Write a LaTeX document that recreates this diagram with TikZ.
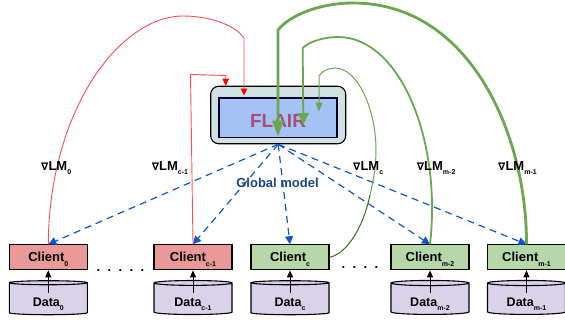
\documentclass[tikz,border=0pt]{standalone}
\usepackage{fontspec}
\setmainfont{Liberation Sans}
\newfontfamily\nablafont{DejaVu Sans}
\usepackage{xcolor}
\usetikzlibrary{shapes.geometric, arrows.meta, positioning, calc}

\definecolor{clientred}{HTML}{EA9999}
\definecolor{clientgreen}{HTML}{B6D7A8}
\definecolor{datapurple}{HTML}{D9D2E9}
\definecolor{flairouter}{HTML}{D0E0E3}
\definecolor{flairinner}{HTML}{A4C2F4}
\definecolor{flairtext}{HTML}{A64D79}
\definecolor{linkblue}{HTML}{1155CC}
\definecolor{modelblue}{HTML}{1C4587}
\definecolor{gradred}{HTML}{FF4D4D}
\definecolor{gradgreen}{HTML}{6AA84F}
\definecolor{gradgreendark}{HTML}{38661E}

\newcommand{\lowidx}[1]{\raisebox{-4.5pt}[0pt][0pt]{\fontsize{7}{8}\selectfont #1}}
\newcommand{\gradsym}{{\nablafont\fontsize{10.5}{12}\selectfont ∇}}
\newcommand{\datatxt}[1]{\raisebox{-7pt}[0pt][0pt]{Data\lowidx{#1}}}

\tikzset{
    clientbox/.style={draw, line width=1.1pt, minimum width=78pt, minimum height=25pt, inner sep=0pt, font=\fontsize{13}{15}\selectfont\bfseries},
    databox/.style={draw, cylinder, shape border rotate=90, aspect=0.13, line width=1.1pt, fill=datapurple, minimum width=78pt, minimum height=34pt, inner sep=0pt, font=\fontsize{12.5}{14}\selectfont\bfseries},
    gradlabel/.style={inner sep=0pt, font=\fontsize{13}{15}\selectfont\bfseries},
    modellink/.style={-{Triangle[length=8pt,width=8pt]}, dash pattern=on 7pt off 5pt, line width=1.2pt, linkblue},
    dataarrow/.style={-{Triangle[length=7pt,width=6pt]}, line width=1pt},
    redgrad/.style={-{Triangle[length=7pt,width=6.5pt,fill=red,color=red]}, line width=0.9pt, gradred},
    greengrad/.style={line width=#1, gradgreen}
}

\begin{document}
\begin{tikzpicture}[x=1pt,y=-1pt]
\useasboundingbox (0,0) rectangle (565,322);

% server
\node[draw, rounded corners=8pt, line width=1.1pt, fill=flairouter, minimum width=135pt, minimum height=57.5pt] (flair) at (278.2,115) {};
\node[draw, line width=1.5pt, color=black!85!blue, fill=flairinner, minimum width=118pt, minimum height=39.5pt, text=flairtext, font=\fontsize{19}{22}\selectfont\bfseries] (flairin) at (278,117.5) {\raisebox{-9.5pt}[0pt][0pt]{FLAIR}};

% clients
\node[clientbox, fill=clientred] (client0) at (48.3,257.3) {Client\lowidx{0}};
\node[clientbox, fill=clientred] (clientc1) at (193,257.3) {Client\lowidx{c-1}};
\node[clientbox, fill=clientgreen] (clientc) at (290,257.3) {Client\lowidx{c}};
\node[clientbox, fill=clientgreen] (clientm2) at (430,257.3) {Client\lowidx{m-2}};
\node[clientbox, fill=clientgreen] (clientm1) at (526.5,257.3) {Client\lowidx{m-1}};

% data
\node[databox] (data0) at (48.3,299) {\datatxt{0}};
\node[databox] (datac1) at (193,299) {\datatxt{c-1}};
\node[databox] (datac) at (290,299) {\datatxt{c}};
\node[databox] (datam2) at (430,299) {\datatxt{m-2}};
\node[databox] (datam1) at (526.5,299) {\datatxt{m-1}};

\draw[dataarrow] ([yshift=6pt]data0.center) -- (client0.south);
\draw[dataarrow] ([yshift=6pt]datac1.center) -- (clientc1.south);
\draw[dataarrow] ([yshift=6pt]datac.center) -- (clientc.south);
\draw[dataarrow] ([yshift=6pt]datam2.center) -- (clientm2.south);
\draw[dataarrow] ([yshift=6pt]datam1.center) -- (clientm1.south);

% dots
\node[gradlabel] (dotsleft) at (120.5,271) {.\hskip7.4pt.\hskip7.4pt.\hskip7.4pt.\hskip7.4pt.};
\node[gradlabel] (dotsright) at (360,268) {.\hskip7.4pt.\hskip7.4pt.\hskip7.4pt.};

% global model
\draw[modellink] (flair.south) -- (client0.north);
\draw[modellink] (flair.south) -- (clientc1.north);
\draw[modellink] (flair.south) -- (clientc.north);
\draw[modellink] (flair.south) -- (clientm2.north);
\draw[modellink] (flair.south) -- (clientm1.north);
\node[gradlabel, text=modelblue] (globalmodel) at (277.5,183) {Global model};

% red gradients
\draw[redgrad] (client0.north) .. controls (49,110) and (120,16) .. (183,16) .. controls (210,16) and (235,25) .. (244,38) -- ([xshift=-34pt,yshift=1.5pt]flairin.north);
\draw[redgrad] (clientc1.north) -- (190.5,74.5) -- (225.7,75.5) -- ([xshift=-52.5pt]flair.north);

% green gradients
\coordinate (bendc) at (370,195);
\draw[line width=1pt, gradgreendark] (clientc.east) .. controls (345,254) and (362,232) .. (bendc);
\draw[greengrad=1pt, -{Triangle[length=9pt,width=7pt,fill=gradgreen]}] (bendc) .. controls (374,178) and (376,165) .. (376,150) .. controls (376,110) and (358,68) .. (335,68) .. controls (328,68) and (322,71) .. (319,76) -- ([xshift=41pt,yshift=6pt]flairin.center);
\draw[greengrad=1.8pt, -{Triangle[length=12pt,width=11pt,fill=gradgreen]}] (clientm2.north) .. controls (442,140) and (400,37) .. (338,37) .. controls (325,37) and (310,41) .. (302.7,48) -- ([xshift=25.3pt,yshift=-7.5pt]flairin.center);
\draw[greengrad=2.8pt, -{Triangle[length=16pt,width=11pt,fill=gradgreen]}] (clientm1.north) .. controls (527,135) and (470,3) .. (353,3) .. controls (320,3) and (290,15) .. (278,30) -- ([yshift=1.5pt]flairin.south);

% labels
\node[gradlabel, anchor=base west] (lm0) at (41,170) {\gradsym LM\lowidx{0}};
\node[gradlabel, anchor=base west] (lmc1) at (151.7,170) {\gradsym LM\lowidx{c-1}};
\node[gradlabel, anchor=base west] (lmc) at (353,170) {\gradsym LM\lowidx{c}};
\node[gradlabel, anchor=base west] (lmm2) at (416.7,170) {\gradsym LM\lowidx{m-2}};
\node[gradlabel, anchor=base west] (lmm1) at (498,170) {\gradsym LM\lowidx{m-1}};
\end{tikzpicture}
\end{document}
